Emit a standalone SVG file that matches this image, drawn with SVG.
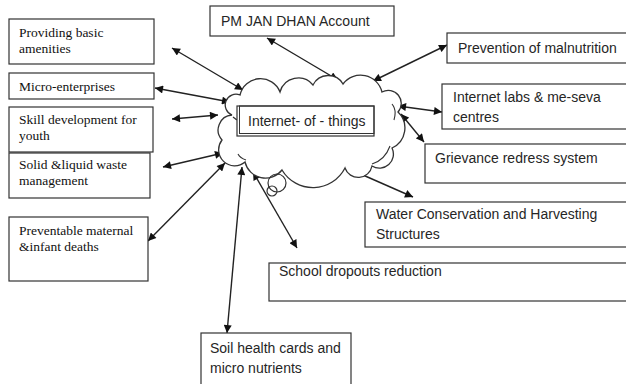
<svg xmlns="http://www.w3.org/2000/svg" width="626" height="384" viewBox="0 0 626 384">
<defs>
<marker id="ah" viewBox="0 0 10 10" refX="10" refY="5" markerWidth="9" markerHeight="8" markerUnits="userSpaceOnUse" orient="auto-start-reverse">
<path d="M0,0 L10,5 L0,10 Z" fill="#111"/>
</marker>
</defs>
<style>
.box{fill:#fff;stroke:#333;stroke-width:1.2}
.serif{font-family:"Liberation Serif","Times New Roman",serif;font-size:13.5px;fill:#111}
.sans{font-family:"Liberation Sans",Arial,sans-serif;font-size:14px;fill:#262626}
.conn line{stroke:#222;stroke-width:1.4;marker-start:url(#ah);marker-end:url(#ah)}
.cloud{fill:#fff;stroke:#333;stroke-width:1.3}
</style>
<rect width="626" height="384" fill="#fff"/>

<g id="connectors" class="conn">
<line x1="267" y1="38" x2="338" y2="80"/>
<line x1="373" y1="81" x2="447" y2="45"/>
<line x1="172" y1="48" x2="243" y2="90"/>
<line x1="155" y1="88" x2="230" y2="102"/>
<line x1="172" y1="119" x2="218" y2="115"/>
<line x1="163" y1="167" x2="223" y2="153"/>
<line x1="148" y1="241" x2="225" y2="163"/>
<line x1="242" y1="167" x2="227" y2="333"/>
<line x1="253" y1="172" x2="297" y2="248"/>
<line x1="347" y1="168" x2="413" y2="197"/>
<line x1="398" y1="106" x2="442" y2="112"/>
<line x1="401" y1="114" x2="424" y2="142"/>
</g>

<g id="cloud">
<path class="cloud" d="M240,95 A21,21 0 0 1 280,92 A19,19 0 0 1 313,85 A17,17 0 0 1 343,84 A22,22 0 0 1 382,92 A13,13 0 0 1 398,112 A22,22 0 0 1 392,148 A14,14 0 0 1 372,166 A14,14 0 0 1 345,168 A36,36 0 0 1 282,170 A21,21 0 0 1 245,162 A16,16 0 0 1 222,140 A15,15 0 0 1 232,115 A10,10 0 0 1 240,95 Z"/>
<path d="M392,104 Q397,110 394,120 M390,146 Q385,160 372,164 M246,160 Q240,158 238,154 M233,117 Q236,120 240,121" fill="none" stroke="#333" stroke-width="1.1"/>
<circle cx="277" cy="183" r="9" fill="none" stroke="#333" stroke-width="1.2"/>
<circle cx="272" cy="191" r="5" fill="none" stroke="#333" stroke-width="1.2"/>
</g>

<g id="n-iot">
<rect x="237" y="106" width="137" height="30" fill="#fff" stroke="#333" stroke-width="1.2"/>
<rect x="239.5" y="106" width="134.5" height="27.5" fill="none" stroke="#333" stroke-width="1"/>
<text class="sans" x="248" y="126">Internet- of - things</text>
</g>

<g id="n-amenities">
<rect class="box" x="9" y="19" width="145" height="45"/>
<text class="serif" x="19" y="37">Providing basic</text>
<text class="serif" x="19" y="53">amenities</text>
</g>
<g id="n-micro">
<rect class="box" x="9" y="73" width="145" height="26"/>
<text class="serif" x="19" y="91">Micro-enterprises</text>
</g>
<g id="n-skill">
<rect class="box" x="9" y="107" width="144" height="45"/>
<text class="serif" x="19" y="124">Skill development for</text>
<text class="serif" x="19" y="140">youth</text>
</g>
<g id="n-waste">
<rect class="box" x="9" y="153" width="141" height="45"/>
<text class="serif" x="19" y="169">Solid &amp;liquid waste</text>
<text class="serif" x="19" y="185">management</text>
</g>
<g id="n-maternal">
<rect class="box" x="9" y="217" width="139" height="64"/>
<text class="serif" x="19" y="235">Preventable maternal</text>
<text class="serif" x="19" y="251">&amp;infant deaths</text>
</g>
<g id="n-jandhan">
<rect class="box" x="210" y="6" width="184" height="30"/>
<text class="sans" x="221" y="26">PM JAN DHAN Account</text>
</g>
<g id="n-malnutrition">
<rect class="box" x="447" y="33" width="190" height="30"/>
<text class="sans" x="458" y="53">Prevention of malnutrition</text>
</g>
<g id="n-labs">
<rect class="box" x="442" y="84" width="200" height="45"/>
<text class="sans" x="453" y="102">Internet labs &amp; me-seva</text>
<text class="sans" x="453" y="122">centres</text>
</g>
<g id="n-grievance">
<rect class="box" x="425" y="144" width="210" height="39"/>
<text class="sans" x="435" y="163">Grievance redress system</text>
</g>
<g id="n-water">
<rect class="box" x="365" y="202" width="270" height="45"/>
<text class="sans" x="376" y="219">Water Conservation and Harvesting</text>
<text class="sans" x="376" y="239">Structures</text>
</g>
<g id="n-school">
<rect class="box" x="269" y="263" width="370" height="38"/>
<text class="sans" x="279" y="276">School dropouts reduction</text>
</g>
<g id="n-soil">
<rect class="box" x="201" y="333" width="150" height="60"/>
<text class="sans" x="210" y="353">Soil health cards and</text>
<text class="sans" x="210" y="373">micro nutrients</text>
</g>
</svg>
